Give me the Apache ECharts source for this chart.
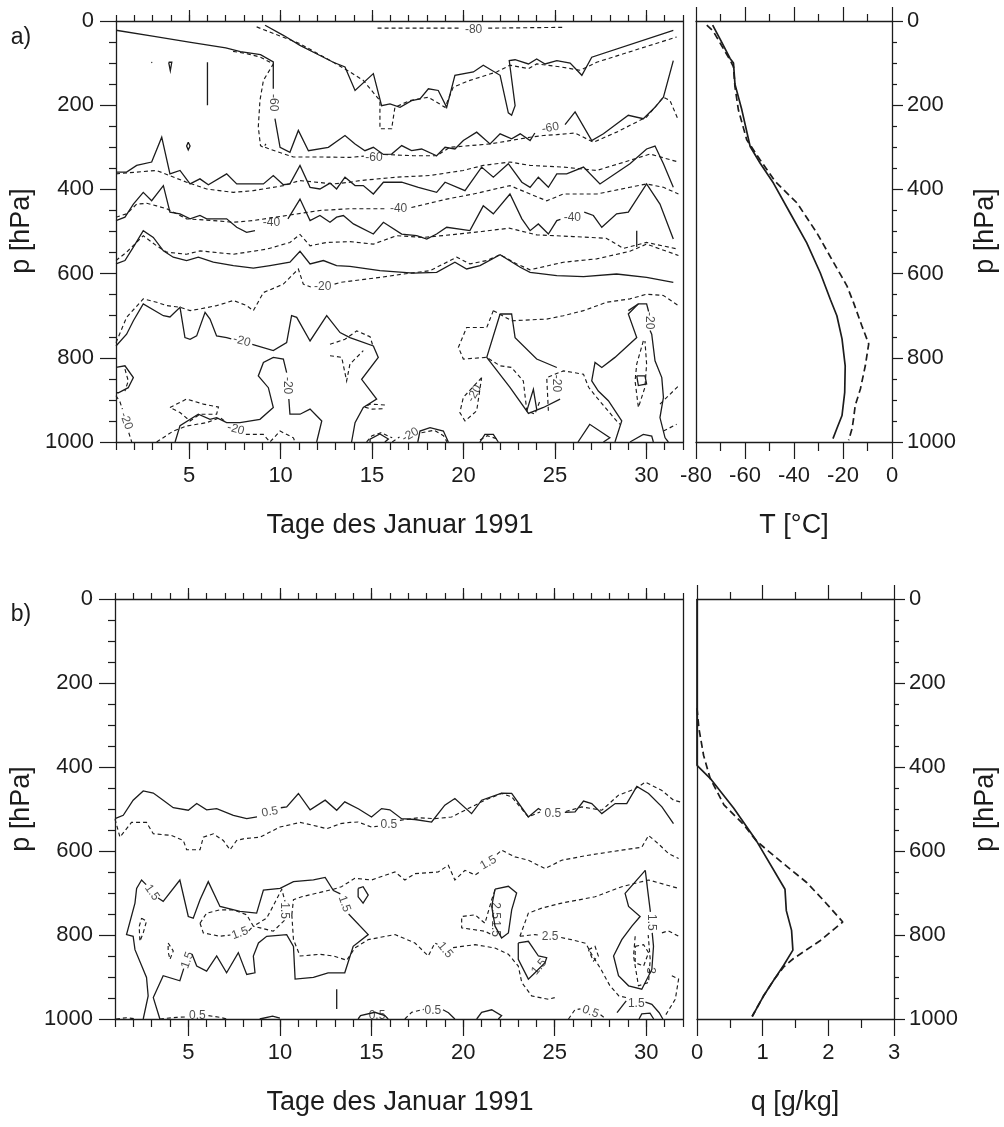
<!DOCTYPE html>
<html>
<head>
<meta charset="utf-8">
<title>Januar 1991 – T und q</title>
<script src="https://cdn.jsdelivr.net/npm/echarts@6/dist/echarts.min.js"></script>
<style>
  html, body { margin: 0; padding: 0; background: #fff; }
  #chart { width: 1004px; height: 1127px; }
</style>
</head>
<body>
<div id="chart"></div>
<script>
// ---------- tick labels ----------
const dayLabels = [5, 10, 15, 20, 25, 30];
const pressureTicks = [0, 200, 400, 600, 800, 1000];
const tempTicks = [-80, -60, -40, -20, 0];
const qTicks = [0, 1, 2, 3];

// ---------- a) temperature contours, [day, p hPa] ----------
// solid isolines
const aS_top = [[1,22],[3,36],[5,50],[7,64],[7.8,73],[8.9,80],[9.6,97],[9.6,161]];
const aS_m60a = [[9.69,232],[9.97,300],[10.51,312],[10.97,260],[11.52,308],[12.61,300],[13.52,272],[14.07,292],[14.61,308],[15.07,300],[15.62,317],[16.07,316],[16.62,296],[17.16,308],[17.71,304],[18.53,320],[18.99,300],[19.53,304],[19.99,284],[20.72,264],[21.45,292],[22.0,268],[22.63,280],[23.1,268],[23.64,284],[23.9,266]];
const aS_m60b = [[25.55,246],[26.1,216],[27.01,284],[27.65,268],[29.01,224],[29.83,232],[30.47,205],[30.93,181],[31.47,94]];
const aS_m70 = [[9.15,10],[10.15,34],[11.06,58],[12.15,82],[12.88,98],[13.52,109],[14.07,165],[15.07,125],[15.52,201],[15.98,197],[16.53,205],[17.16,189],[17.62,185],[18.08,161],[18.62,165],[19.08,205],[19.53,129],[20.54,121],[21.08,105],[22.0,129],[22.45,218],[22.63,224],[22.82,201],[22.5,94],[22.82,92],[23.55,102],[24.0,90],[24.46,102],[25.1,94],[25.83,100],[26.47,129],[27.01,86],[31.47,22]];
const aS_m50 = [[1,359],[1.58,359],[2.13,343],[2.95,335],[3.5,276],[3.95,363],[4.5,355],[5.05,387],[5.59,375],[6.05,389],[7.05,363],[7.6,387],[9.06,387],[9.6,367],[10.15,389],[10.51,387],[11.06,343],[11.61,395],[12.15,399],[12.7,385],[13.06,399],[13.52,371],[14.07,391],[14.52,391],[15.07,411],[15.62,383],[16.62,383],[17.53,395],[18.53,407],[18.99,383],[20.08,403],[20.99,347],[21.63,371],[22.45,339],[23.19,383],[23.64,395],[24.09,371],[24.64,395],[25.1,363],[25.64,363],[26.56,347],[27.46,387],[29.1,339],[30.01,304],[30.47,297],[30.93,339],[31.47,395]];
const aS_m40a = [[1,474],[1.49,466],[1.95,435],[2.49,407],[2.95,427],[3.59,391],[3.95,454],[4.5,458],[5.05,470],[5.59,462],[5.96,470],[7.05,470],[7.6,490],[8.14,502],[8.6,498]];
const aS_m40b = [[10.4,470],[11.06,423],[11.61,474],[12.15,462],[12.7,478],[13.06,466],[13.43,462],[13.98,482],[15.07,506],[15.62,478],[16.62,506],[17.44,510],[17.99,518],[18.53,506],[19.08,490],[20.35,498],[21.08,439],[21.63,458],[22.54,411],[23.19,470],[23.64,498],[24.09,482],[24.64,506],[25.1,474],[25.3,471]];
const aS_m40c = [[26.6,454],[27.1,462],[27.56,490],[28.37,458],[29.01,454],[30.01,387],[30.74,435],[31.47,518]];
const aS_m30 = [[1,577],[1.49,569],[1.95,537],[2.49,498],[3.04,514],[3.59,546],[4.13,561],[4.86,569],[5.5,561],[6.32,573],[7.42,581],[8.51,587],[9.42,581],[10.51,573],[11.06,547],[11.61,577],[12.34,569],[13.06,581],[13.79,583],[15.43,593],[17.26,599],[18.53,597],[19.53,573],[20.17,589],[20.9,581],[22.0,555],[23.1,585],[23.64,597],[25.1,605],[26.56,607],[28.37,601],[30.01,609],[31.47,621]];
const aS_m20a = [[1,772],[1.58,744],[1.95,712],[2.49,672],[3.59,700],[3.95,703],[4.5,680],[4.77,752],[5.05,756],[5.41,748],[5.87,692],[6.14,708],[6.5,748],[7.05,752],[7.3,755]];
const aS_m20b = [[8.45,768],[9.6,783],[10.33,764],[10.6,700],[10.88,704],[11.61,760],[12.52,700],[13.25,740],[13.79,752],[15.07,772],[15.34,799],[14.43,851],[15.25,898],[14.52,918],[14.07,954],[13.88,1000]];
const aS_leftBlob = [[1,823],[1.49,819],[1.95,847],[1.67,871],[1.13,883],[1,883]];
const aS_bottomA = [[4.23,1000],[4.5,961],[5.5,934],[6.14,946],[6.5,942],[7.05,954],[7.78,954],[8.87,946],[9.6,918],[9.33,871],[8.78,843],[9.06,811],[9.6,799],[10.15,803],[10.33,835]];
const aS_bottomB = [[10.45,898],[10.51,934],[11.06,934],[11.61,922],[12.25,950],[11.97,1000]];
const aS_mid1 = [[22.0,696],[22.63,696],[22.82,752],[24.0,803],[25.1,823]];
const aS_mid2 = [[22.0,696],[21.27,799],[21.63,819],[22.54,870],[23.55,932],[24.37,918],[25.28,898]];
const aS_vee = [[23.46,926],[23.82,875],[24.0,922]];
const aS_r1a = [[29.01,688],[29.56,672],[30.01,672],[30.12,690]];
const aS_r1b = [[30.2,735],[30.29,744],[30.47,807],[30.84,847],[30.93,894],[30.74,942],[31.02,990],[31.2,1000]];
const aS_r2 = [[29.56,672],[29.01,696],[29.47,752],[28.28,799],[27.56,823],[27.19,811],[27.01,855],[27.37,879],[27.92,902],[28.65,950],[28.28,1000]];
const aS_rCircle = [[29.47,843],[29.92,843],[30.01,862],[29.56,866],[29.47,843]];
const aS_rBot1 = [[26.26,1000],[26.9,958],[28.0,990],[27.65,1000]];
const aS_rBot2 = [[29.1,1000],[29.1,997],[29.83,982],[30.29,986],[30.38,1000]];
const aS_b1 = [[14.89,1000],[14.89,993],[15.43,981],[15.89,993],[15.7,1000]];
const aS_b2 = [[17.5,1000],[17.62,974],[18.17,966],[18.9,974],[19.17,1000]];
const aS_b3 = [[20.9,1000],[21.17,982],[21.63,982],[21.9,1000]];
const aS_tick1 = [[6.0,98],[6.0,200]];
const aS_tick2 = [[29.47,498],[29.47,537]];
const aS_diamond = [[4.95,288],[5.05,297],[4.95,306],[4.86,297],[4.95,288]];
const aS_drop = [[3.88,98],[4.05,98],[3.97,118],[3.88,98]];
const aS_dot = [[2.93,98],[2.98,99]];

// dashed isolines
const aD_m80a = [[15.3,17],[19.75,17]];
const aD_m80b = [[21.35,17],[25.5,15]];
const aD_m70a = [[7.4,72],[8.2,78],[8.9,86],[9.6,102],[9.06,141],[8.87,189],[8.78,252],[8.9,296],[9.06,300],[9.2,292]];
const aD_m60a = [[9.15,300],[9.78,310],[10.7,323],[12.15,323],[13.79,324],[14.55,321]];
const aD_m60b = [[15.65,317],[17.26,320],[18.53,320],[19.26,300],[21.45,292],[23.64,276],[24.37,272],[25.1,270],[26.1,266],[27.1,288],[28.37,264],[30.01,228],[30.93,181],[31.29,189],[31.75,236]];
const aD_m70b = [[8.69,14],[11.06,54],[12.88,98],[13.79,121],[14.52,141],[15.43,189],[15.43,256],[16.07,256],[16.25,205],[17.07,189],[18.08,181],[18.99,205],[19.44,157],[20.35,141],[21.81,121],[22.54,105],[23.55,113],[24.0,102],[25.28,109],[26.38,117],[27.28,98],[31.65,38]];
const aD_m50 = [[1,363],[3.22,355],[4.86,383],[5.96,399],[7.42,407],[8.51,403],[10.15,391],[11.06,379],[12.88,387],[13.79,383],[14.34,379],[16.34,371],[18.17,367],[19.99,355],[21.08,343],[22.54,335],[23.64,343],[25.46,347],[27.28,355],[29.1,331],[30.2,316],[31.75,335]];
const aD_m40a = [[1,466],[1.58,458],[2.13,435],[2.68,433],[3.22,439],[3.77,446],[4.32,458],[4.86,470],[6.32,474],[7.42,478],[8.51,474],[10.33,462],[12.15,450],[13.79,446],[15.75,446]];
const aD_m40b = [[17.15,443],[19.08,423],[20.54,411],[22.54,391],[23.64,411],[24.55,427],[25.46,411],[27.28,411],[29.1,395],[30.01,387],[30.93,395],[31.75,411]];
const aD_m30 = [[1,569],[1.58,549],[2.49,510],[3.22,534],[3.77,549],[4.86,554],[5.59,546],[7.42,554],[9.24,542],[10.51,526],[11.06,507],[11.61,534],[12.52,526],[13.79,524],[15.07,530],[16.34,510],[17.81,514],[19.3,508],[21.0,500],[22.5,492],[24.0,508],[26.0,512],[27.8,516],[28.74,540],[30.01,526],[31.75,542]];
const aD_m20a = [[1,764],[1.58,704],[2.49,660],[3.22,668],[3.77,676],[4.5,680],[5.05,688],[5.59,684],[6.5,676],[7.42,664],[8.14,676],[8.51,688],[9.06,645],[10.15,625],[10.97,589],[11.24,625],[11.65,632]];
const aD_m20b = [[12.95,625],[13.25,621],[15.43,609],[16.71,601],[18.17,593],[19.63,561],[20.35,577],[21.27,569],[22.0,555],[22.91,577],[23.64,591],[25.46,573],[27.28,565],[29.1,547],[30.01,530],[31.75,557]];
const aD_leftBlob = [[1.49,827],[1.67,855],[1.49,879]];
const aD_leftLowA = [[1,890],[1.22,905],[1.35,922]];
const aD_leftLowB = [[1.7,978],[1.86,1000]];
const aD_botLoop = [[3.95,918],[4.86,898],[5.78,910],[6.6,917],[6.5,934],[5.59,934],[5.05,950],[4.5,930],[3.95,918]];
const aD_botLineA = [[3.22,1000],[4.13,974],[4.86,962],[5.96,954],[6.69,942],[7.0,952]];
const aD_botLineB = [[8.1,982],[9.06,982],[9.42,1000],[9.97,974],[10.7,990],[10.79,1000]];
const aD_midA = [[12.7,768],[13.52,756],[14.16,736],[14.89,750],[15.07,775]];
const aD_midB = [[12.7,795],[13.34,799],[13.61,855],[13.79,815],[14.52,783]];
const aD_hook = [[15.7,912],[14.9,910],[14.6,917],[15.0,922],[15.6,921]];
const aD_b1 = [[14.7,1000],[15.0,985],[15.5,978],[16.1,990]];
const aD_b2a = [[16.1,1000],[16.5,988]];
const aD_b2b = [[17.7,978],[18.4,972],[18.9,985],[19.1,1000]];
const aD_b3 = [[20.9,995],[21.3,985],[21.8,992]];
const aD_midC = [[21.63,688],[21.27,728],[20.17,728],[19.72,775],[19.99,803],[21.27,799],[22.0,819],[22.63,823],[23.27,855],[23.46,926],[23.9,934],[24.2,900]];
const aD_midD = [[21.63,688],[22.63,712],[24.55,708],[25.46,700],[26.56,688],[27.83,668],[29.1,660],[30.01,649],[30.93,652],[31.75,676]];
const aD_smallLeft = [[20.99,847],[19.99,894],[19.8,930],[20.08,950],[20.72,926],[20.99,847]];
const aD_rightMid = [[24.64,926],[24.55,847],[25.46,831],[26.56,839],[26.84,870],[27.28,894],[28.37,950],[28.56,958]];
const aD_rNarrow = [[29.83,760],[29.47,815],[29.38,855],[29.56,918],[29.92,870],[30.01,815],[29.92,760]];
const aD_rEdge1 = [[30.74,910],[31.75,867]];
const aD_rEdge2 = [[30.93,974],[31.65,958]];

// contour labels of a)
const aLabels = [[9.6,194,'-60'],[15.1,324,'-60'],[24.75,254,'-60'],[20.55,20,'-80'],[9.5,478,'-40'],[16.45,446,'-40'],[25.95,468,'-40'],[12.3,632,'-20'],[7.88,760,'-20'],[10.38,866,'-20'],[7.55,970,'-20'],[1.55,950,'-20'],[20.6,885,'-20'],[25.1,861,'-20'],[30.17,712,'-20'],[17.1,983,'-20']];
const aLabelAngles = [-90,0,10,0,0,0,0,0,-15,-90,-15,-70,60,-90,-90,30];

// ---------- b) specific humidity contours, [day, p hPa] ----------
const bS_05a = [[1,523],[1.45,515],[1.99,479],[2.54,457],[3.09,462],[3.63,479],[4.18,497],[5.0,503],[5.46,487],[6.0,502],[6.55,499],[7.46,515],[8.19,523],[8.75,519]];
const bS_05b = [[10.05,497],[10.37,495],[11.01,463],[11.65,502],[12.47,479],[13.1,503],[13.54,483],[14.3,500],[15.0,519],[15.55,499],[16.0,502],[16.64,523],[17.37,525],[18.28,531],[19.0,491],[19.55,475],[20.46,511],[21.01,479],[22.1,462],[22.65,463],[23.56,519],[24.11,499],[24.25,503]];
const bS_05c = [[25.55,508],[26.11,507],[26.57,481],[27.02,487],[27.57,511],[28.3,487],[28.93,487],[29.48,446],[30.12,463],[30.85,495],[31.48,535]];
const bD_05a = [[1,524],[1.27,567],[1.9,532],[2.72,532],[3.09,559],[4.09,563],[4.73,575],[4.91,597],[5.64,597],[5.82,567],[6.37,559],[6.91,575],[7.28,597],[7.64,575],[8.0,571],[8.92,567],[9.46,555],[10.0,543],[11.1,532],[11.83,539],[12.56,547],[13.29,535],[13.83,532],[14.27,531],[15.0,543],[15.35,541]];
const bD_05b = [[16.55,527],[17.55,521],[18.46,523],[19.37,519],[20.28,499],[21.19,479],[22.1,463],[22.65,471],[23.56,519],[24.2,507]];
const bD_05c = [[25.6,506],[26.48,495],[27.57,503],[28.48,467],[29.39,452],[29.94,436],[30.85,456],[31.48,479],[31.85,483]];
const bS_15a = [[2.54,1000],[2.81,945],[2.72,901],[2.09,835],[1.99,803],[1.63,799],[2.09,724],[2.18,689],[2.45,669],[2.7,680]];
const bS_15b = [[3.35,712],[3.63,720],[4.54,669],[5.0,756],[5.27,760],[5.64,716],[6.09,673],[6.73,732],[7.82,744],[8.73,748],[9.1,693],[10.01,689],[10.74,673],[11.83,669],[12.47,663],[12.92,694],[13.3,702]];
const bS_15c = [[13.75,750],[14.82,799],[14.0,827],[13.54,890],[12.63,890],[11.83,901],[10.83,905],[10.74,827],[10.37,799],[9.28,803],[8.83,819],[8.55,850],[8.64,890],[8.19,894],[7.73,842],[7.09,890],[6.55,850],[6.0,886],[5.46,874],[5.2,845]];
const bS_15d = [[4.75,880],[4.54,909],[3.63,897],[3.09,949],[3.45,1000]];
const bS_midLoop = [[21.74,691],[22.47,684],[22.92,700],[22.65,740],[22.47,795],[22.1,807],[21.74,779],[21.56,732],[21.74,691]];
const bS_small15 = [[23.01,819],[23.56,815],[24.11,850],[24.56,854],[24.47,866],[23.92,890],[23.56,905],[23.01,858],[23.01,819]];
const bS_tri = [[29.94,646],[28.84,701],[29.03,732],[29.66,756],[29.21,779],[28.66,811],[28.21,850],[28.48,897],[29.03,921],[29.75,929],[30.3,882],[30.39,827],[30.32,795]];
const bS_tri2 = [[30.22,745],[29.94,646]];
const bS_rBot1 = [[28.4,985],[28.9,957]];
const bS_rBot2 = [[29.95,960],[30.3,965],[30.7,985],[30.9,1000]];
const bS_rHump = [[29.6,1000],[29.75,988],[30.2,986],[30.4,1000]];
const bS_diamond = [[14.27,689],[14.54,685],[14.82,705],[14.54,724],[14.27,709],[14.27,689]];
const bS_bot1 = [[8.9,1000],[9.6,993],[10.0,998]];
const bS_tick = [[13.1,929],[13.1,976]];
const bS_bot2 = [[14.27,1000],[14.4,992],[15.18,984],[15.73,992],[15.91,1000]];
const bS_bot3 = [[18.9,978],[19.2,985],[19.55,1000]];
const bS_hex = [[20.74,1000],[21.01,984],[21.56,978],[22.1,992],[21.92,1000]];

const bD_15a = [[5.64,772],[6.0,748],[6.73,740],[7.46,740],[8.19,752],[8.55,779],[9.28,760],[9.64,730],[10.1,691],[10.28,720]];
const bD_15b = [[10.25,765],[9.64,791],[8.92,783],[8.55,779]];
const bD_15c = [[5.64,772],[5.82,795],[6.73,803],[7.3,800]];
const bD_15d = [[8.3,790],[8.55,779]];
const bD_15e = [[10.65,752],[10.74,716],[11.19,709],[12.92,691],[13.36,685],[14.09,665],[15.0,669],[16.28,650],[16.82,669],[17.37,654],[18.64,650],[19.19,634],[19.55,669],[20.1,646],[20.65,657],[20.9,650]];
const bD_15f = [[21.85,608],[22.1,598],[22.83,614],[23.56,622],[24.47,642],[25.38,622],[26.84,610],[28.66,598],[29.75,591],[30.12,563],[30.66,583],[31.21,606],[31.76,618]];
const bD_15g = [[10.65,752],[10.74,811],[11.1,850],[12.19,846],[12.92,850],[13.65,860],[14.09,831],[14.82,811],[16.28,799],[17.37,819],[18.1,850],[18.46,819],[18.6,822]];
const bD_15h = [[19.45,830],[20.65,823],[21.74,831],[22.47,846],[23.01,874],[23.2,913],[23.74,945],[24.65,953],[25.0,949]];
const bD_25a = [[23.1,803],[23.56,748],[24.29,736],[25.38,724],[27.2,709],[28.66,685],[30.12,669],[31.76,689]];
const bD_25b = [[23.1,803],[23.92,799],[24.2,801]];
const bD_25c = [[25.35,806],[25.9,811],[26.7,820],[27.0,845],[27.5,880],[28.0,920],[28.5,945],[29.0,950]];
const bD_midLoop = [[21.74,693],[21.56,716],[21.19,772],[20.65,752],[19.92,756],[19.92,783],[21.19,791],[21.6,800]];
const bD_rInner = [[29.39,803],[29.3,850],[29.57,921],[30.12,913],[30.21,858],[30.1,800]];
const bD_rCircle = [[29.39,827],[29.85,823],[30.12,842],[29.85,874],[29.39,866],[29.39,827]];
const bD_rRight1 = [[30.85,795],[31.2,790],[31.76,803]];
const bD_rRight2 = [[31.39,897],[31.76,905],[31.58,953],[31.03,992]];
const bD_diamond = [[26.84,835],[27.2,827],[27.38,850],[27.11,862],[26.84,835]];
const bD_tinyA = [[2.45,760],[2.72,767],[2.54,795],[2.36,815],[2.32,780],[2.45,760]];
const bD_tinyB = [[3.9,819],[4.18,838],[4.0,858],[3.9,840],[3.9,819]];
const bD_bot1 = [[1.05,1000],[1.63,997],[2.18,1000]];
const bD_bot2 = [[3.45,1000],[4.36,996],[4.9,995]];
const bD_bot3 = [[6.1,992],[6.73,996],[7.1,1000]];
const bD_bot4 = [[16.82,1000],[17.19,984],[17.85,977]];
const bD_bot5 = [[25.75,1000],[26.1,978],[26.4,976]];
const bD_bot6 = [[27.5,990],[27.8,1000]];

const bLabels = [[9.45,507,'0.5'],[24.9,511,'0.5'],[15.95,538,'0.5'],[3.02,699,'1.5'],[13.52,726,'1.5'],[4.96,860,'1.5'],[10.22,742,'1.5'],[7.82,796,'1.5'],[21.38,628,'1.5'],[19.02,836,'1.5'],[24.75,803,'2.5'],[21.78,742,'2.5'],[21.78,785,'1.5'],[24.15,876,'1.5'],[30.25,770,'1.5'],[30.2,885,'3'],[29.45,963,'1.5'],[5.5,992,'0.5'],[18.35,981,'0.5'],[26.95,983,'0.5'],[15.3,993,'0.5']];
const bLabelAngles = [10,0,0,-55,-70,70,-90,20,30,-50,0,-90,-90,50,-90,-90,0,0,0,-20,0];

// ---------- mean profiles, [value, p hPa] ----------
const tempSolid = [[-73.2,10],[-70,45],[-66.1,89],[-64.7,100],[-64.1,150],[-61.3,211],[-57.9,298],[-53.8,338],[-48.4,385],[-41.6,456],[-34.8,527],[-29.3,598],[-25.2,661],[-22.5,700],[-20.4,755],[-19.1,819],[-19.3,882],[-20.4,937],[-22.5,968],[-24.1,992]];
const tempDashed = [[-75.6,10],[-73,24],[-66.1,93],[-64.7,109],[-64.1,156],[-62.7,211],[-59.3,282],[-53.8,330],[-47.7,381],[-38.8,432],[-30.7,503],[-23.8,574],[-18.4,629],[-15.7,669],[-12.3,724],[-9.5,767],[-10.9,819],[-12.9,874],[-15.0,913],[-15.7,945],[-16.3,968],[-17.7,996]];
const qSolid = [[0,0],[0,396],[0.2,427],[0.56,498],[0.91,577],[1.34,691],[1.36,742],[1.44,789],[1.46,836],[1.32,872],[1.17,907],[1.01,946],[0.84,994]];
const qDashed = [[0,260],[0.03,309],[0.1,372],[0.2,427],[0.41,490],[0.71,537],[0.91,577],[1.27,624],[1.67,675],[1.93,718],[2.22,769],[1.88,813],[1.47,856],[1.32,876],[1.17,907],[1.01,946],[0.84,994]];

// ---------- groups ----------
const aSolid = [aS_top,aS_m60a,aS_m60b,aS_m70,aS_m50,aS_m40a,aS_m40b,aS_m40c,aS_m30,aS_m20a,aS_m20b,aS_leftBlob,aS_bottomA,aS_bottomB,aS_mid1,aS_mid2,aS_vee,aS_r1a,aS_r1b,aS_r2,aS_rCircle,aS_rBot1,aS_rBot2,aS_b1,aS_b2,aS_b3,aS_tick1,aS_tick2,aS_diamond,aS_drop,aS_dot];
const aDashed = [aD_m80a,aD_m80b,aD_m70a,aD_m60a,aD_m60b,aD_m70b,aD_m50,aD_m40a,aD_m40b,aD_m30,aD_m20a,aD_m20b,aD_leftBlob,aD_leftLowA,aD_leftLowB,aD_botLoop,aD_botLineA,aD_botLineB,aD_midA,aD_midB,aD_hook,aD_b1,aD_b2a,aD_b2b,aD_b3,aD_midC,aD_midD,aD_smallLeft,aD_rightMid,aD_rNarrow,aD_rEdge1,aD_rEdge2];
const bSolid = [bS_05a,bS_05b,bS_05c,bS_15a,bS_15b,bS_15c,bS_15d,bS_midLoop,bS_small15,bS_tri,bS_tri2,bS_rBot1,bS_rBot2,bS_rHump,bS_diamond,bS_bot1,bS_tick,bS_bot2,bS_bot3,bS_hex];
const bDashed = [bD_05a,bD_05b,bD_05c,bD_15a,bD_15b,bD_15c,bD_15d,bD_15e,bD_15f,bD_15g,bD_15h,bD_25a,bD_25b,bD_25c,bD_midLoop,bD_rInner,bD_rCircle,bD_rRight1,bD_rRight2,bD_diamond,bD_tinyA,bD_tinyB,bD_bot1,bD_bot2,bD_bot3,bD_bot4,bD_bot5,bD_bot6];

// ---------- styling ----------
const FONT = "'Liberation Sans', Arial, Helvetica, sans-serif";
const INK = '#1c1c1c';
const axisLine = { show: true, onZero: false, lineStyle: { color: INK, width: 1.3 } };
const tickStyle = { color: INK, width: 1.2 };
const labelStyle = { color: INK, fontSize: 22, fontFamily: FONT, formatter: v => String(v) };

function dayAxes(g) {
  return [
    { gridIndex: g, type: 'value', min: 1, max: 32, position: 'bottom',
      axisLine, splitLine: { show: false },
      axisTick: { show: true, customValues: dayLabels, length: 17, lineStyle: tickStyle },
      axisLabel: Object.assign({ show: true, customValues: dayLabels, margin: 23 }, labelStyle) },
    { gridIndex: g, type: 'value', min: 1, max: 32, interval: 1, position: 'bottom',
      axisLine: { show: false, onZero: false }, splitLine: { show: false },
      axisTick: { show: true, length: 8, lineStyle: tickStyle }, axisLabel: { show: false } },
    { gridIndex: g, type: 'value', min: 1, max: 32, position: 'top',
      axisLine, splitLine: { show: false },
      axisTick: { show: true, customValues: dayLabels, length: 11, lineStyle: tickStyle },
      axisLabel: { show: false } },
    { gridIndex: g, type: 'value', min: 1, max: 32, interval: 1, position: 'top',
      axisLine: { show: false, onZero: false }, splitLine: { show: false },
      axisTick: { show: true, length: 6, lineStyle: tickStyle }, axisLabel: { show: false } }
  ];
}
function profileXAxes(g, min, max, interval, ticks) {
  return [
    { gridIndex: g, type: 'value', min, max, interval, position: 'bottom',
      axisLine, splitLine: { show: false },
      axisTick: { show: true, length: 17, lineStyle: tickStyle },
      minorTick: { show: true, splitNumber: 2, length: 9, lineStyle: tickStyle },
      axisLabel: Object.assign({ show: true, customValues: ticks, margin: 23 }, labelStyle) },
    { gridIndex: g, type: 'value', min, max, interval, position: 'top',
      axisLine, splitLine: { show: false },
      axisTick: { show: true, length: 14, lineStyle: tickStyle },
      minorTick: { show: true, splitNumber: 2, length: 7, lineStyle: tickStyle },
      axisLabel: { show: false } }
  ];
}
function pressureAxes(g, labelSide) {
  const labelled = { gridIndex: g, type: 'value', inverse: true, min: 0, max: 1000, interval: 200,
    position: labelSide, axisLine, splitLine: { show: false },
    axisTick: { show: true, length: labelSide === 'left' ? 16 : 11, lineStyle: tickStyle },
    minorTick: { show: true, splitNumber: 4, length: labelSide === 'left' ? 7 : 5, lineStyle: tickStyle },
    axisLabel: Object.assign({ show: true, customValues: pressureTicks, margin: labelSide === 'left' ? 22 : 15 }, labelStyle) };
  const plain = { gridIndex: g, type: 'value', inverse: true, min: 0, max: 1000,
    position: labelSide === 'left' ? 'right' : 'left', axisLine, splitLine: { show: false },
    axisTick: { show: false }, axisLabel: { show: false } };
  return labelSide === 'left' ? [labelled, plain] : [plain, labelled];
}

const xAxis = [].concat(
  dayAxes(0),                                   // 0-3
  profileXAxes(1, -80, 0, 20, tempTicks),       // 4-5
  dayAxes(2),                                   // 6-9
  profileXAxes(3, 0, 3, 1, qTicks)              // 10-11
);
const yAxis = [].concat(
  pressureAxes(0, 'left'),   // 0-1
  pressureAxes(1, 'right'),  // 2-3
  pressureAxes(2, 'left'),   // 4-5
  pressureAxes(3, 'right')   // 6-7
);

function isoline(data, dashed, xi, yi) {
  return { type: 'line', xAxisIndex: xi, yAxisIndex: yi, data, symbol: 'none', showSymbol: false,
    silent: true, animation: false, z: 3, clip: true,
    lineStyle: { color: INK, width: dashed ? 1.15 : 1.3, type: dashed ? [4, 3] : 'solid', cap: 'butt', join: 'miter' } };
}
function profile(data, dashed, xi, yi) {
  return { type: 'line', xAxisIndex: xi, yAxisIndex: yi, data, symbol: 'none', showSymbol: false,
    silent: true, animation: false, z: 3,
    lineStyle: { color: INK, width: 1.7, type: dashed ? [7, 4] : 'solid' } };
}
function contourLabels(list, angles, xi, yi) {
  return { type: 'scatter', xAxisIndex: xi, yAxisIndex: yi, symbolSize: 0, silent: true, z: 6,
    animation: false,
    label: { show: true, position: 'inside', color: INK, fontSize: 12, fontFamily: FONT },
    data: list.map((l, i) => ({ value: [l[0], l[1]], label: { formatter: l[2], rotate: angles[i] } })) };
}

const series = [].concat(
  aSolid.map(d => isoline(d, false, 0, 0)),
  aDashed.map(d => isoline(d, true, 0, 0)),
  [contourLabels(aLabels, aLabelAngles, 0, 0)],
  [profile(tempSolid, false, 4, 2), profile(tempDashed, true, 4, 2)],
  bSolid.map(d => isoline(d, false, 6, 4)),
  bDashed.map(d => isoline(d, true, 6, 4)),
  [contourLabels(bLabels, bLabelAngles, 6, 4)],
  [profile(qSolid, false, 10, 6), profile(qDashed, true, 10, 6)]
);

function txt(text, x, y, size, rot) {
  return { type: 'text', x, y, rotation: rot || 0, silent: true,
    style: { text, font: size + 'px ' + FONT, fill: INK, align: 'center', verticalAlign: 'middle' } };
}

const option = {
  animation: false,
  backgroundColor: '#ffffff',
  grid: [
    { left: 116, top: 21, width: 567, height: 421 },
    { left: 696, top: 21, width: 196, height: 421 },
    { left: 115, top: 599, width: 568, height: 420 },
    { left: 697, top: 599, width: 197, height: 420 }
  ],
  xAxis, yAxis, series,
  graphic: [
    txt('a)', 21, 38, 23),
    txt('b)', 21, 615, 23),
    txt('p [hPa]', 22, 231, 27, Math.PI / 2),
    txt('p [hPa]', 986, 231, 27, Math.PI / 2),
    txt('p [hPa]', 22, 809, 27, Math.PI / 2),
    txt('p [hPa]', 986, 809, 27, Math.PI / 2),
    txt('Tage des Januar 1991', 400, 526, 27),
    txt('T [°C]', 794, 526, 27),
    txt('Tage des Januar 1991', 400, 1103, 27),
    txt('q [g/kg]', 795, 1103, 27)
  ]
};

const chart = echarts.init(document.getElementById('chart'), null, { renderer: 'canvas' });
chart.setOption(option);
</script>
</body>
</html>
